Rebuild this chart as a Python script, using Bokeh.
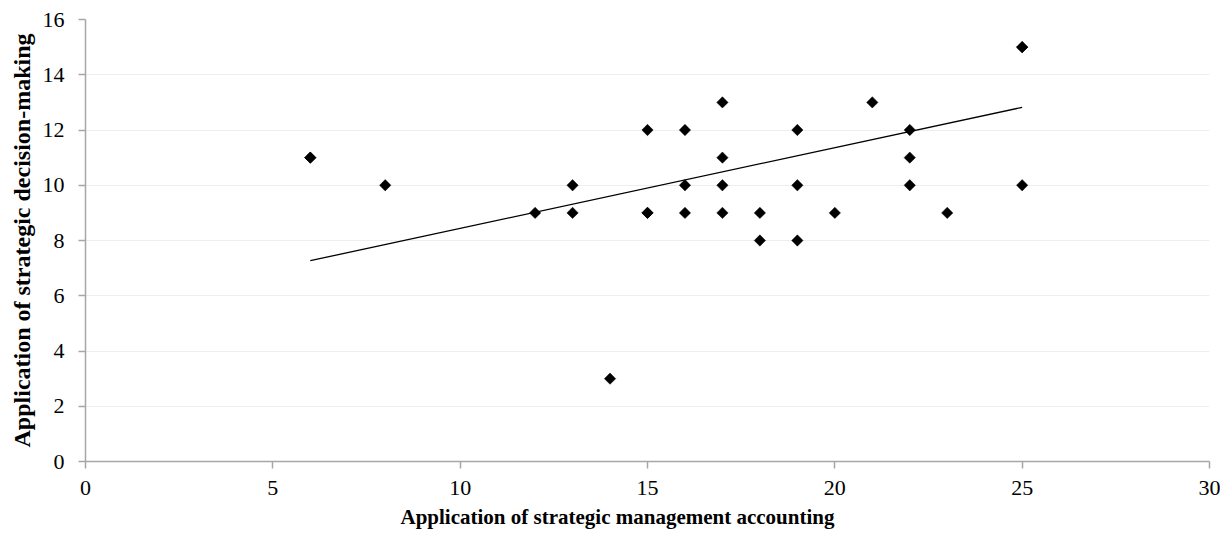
from bokeh.plotting import figure
from bokeh.models import Range1d, FixedTicker, Title
from bokeh.embed import file_html
from bokeh.resources import INLINE
import numpy as np

x_vals = [6, 6, 8, 12, 13, 13, 14, 15, 15, 15, 16, 16, 16, 17, 17, 17, 17, 18, 18, 19, 19, 19, 20, 21, 22, 22, 22, 23, 25, 25, 25]
y_vals = [11, 11, 10, 9, 10, 9, 3, 12, 9, 9, 12, 10, 9, 13, 11, 10, 9, 9, 8, 12, 10, 8, 9, 13, 12, 11, 10, 9, 15, 15, 10]
trend_x = [6, 25]
trend_y = [7.27, 12.82]
x_ticks = [0, 5, 10, 15, 20, 25, 30]
y_ticks = [0, 2, 4, 6, 8, 10, 12, 14, 16]
x_title = "Application of strategic management accounting"
y_title = "Application of strategic decision-making"

FONT = "Liberation Serif"

p = figure(width=1220, height=534, output_backend="svg", toolbar_location=None,
           x_range=Range1d(0, 30), y_range=Range1d(0, 16),
           min_border_left=85, min_border_right=11, min_border_top=19, min_border_bottom=73)
p.outline_line_color = None
p.background_fill_color = "white"
p.border_fill_color = "white"

p.xgrid.grid_line_color = None
p.ygrid.grid_line_color = "#eeeeee"
p.ygrid.grid_line_width = 1

for ax in (p.xaxis[0], p.yaxis[0]):
    ax.axis_line_color = "#a6a6a6"
    ax.axis_line_width = 1.5
    ax.major_tick_line_color = "#a6a6a6"
    ax.major_tick_line_width = 1.5
    ax.major_tick_out = 7
    ax.major_tick_in = 0
    ax.minor_tick_line_color = None
    ax.major_label_text_font = FONT
    ax.major_label_text_font_size = "22px"
    ax.major_label_text_color = "black"
    ax.axis_label_text_font = FONT
    ax.axis_label_text_font_style = "bold"
    ax.axis_label_text_color = "black"

p.yaxis.axis_label_text_font_size = "24px"
p.xaxis.ticker = FixedTicker(ticks=x_ticks)
p.yaxis.ticker = FixedTicker(ticks=y_ticks)
p.yaxis.axis_label = y_title
p.xaxis.major_label_standoff = 12
p.yaxis.major_label_standoff = 14
p.yaxis.axis_label_standoff = 5

x_label = Title(text=x_title, text_font=FONT, text_font_size="21px",
                text_font_style="bold", text_color="black", align="left",
                offset=315, standoff=11)
p.add_layout(x_label, "below")

p.line(trend_x, trend_y, line_color="black", line_width=1.3)
p.scatter(x_vals, y_vals, marker="square", angle=np.pi / 4, size=8,
          fill_color="black", line_color="black", line_width=0.5)

open("out.html", "w").write(file_html(p, INLINE))
